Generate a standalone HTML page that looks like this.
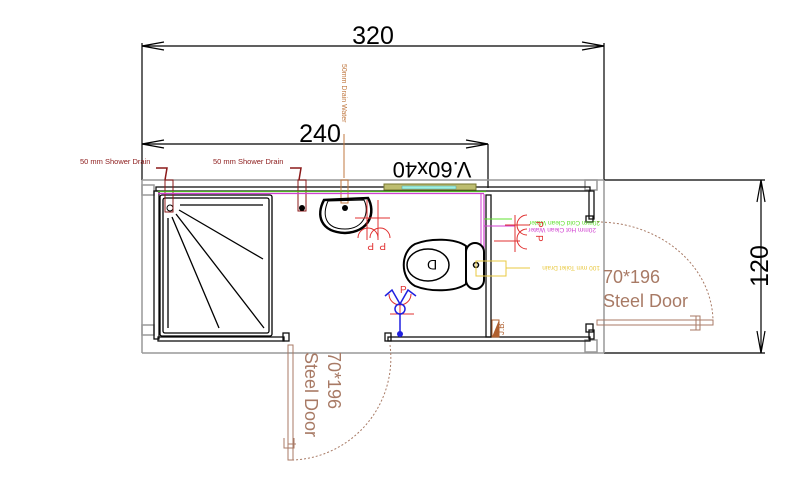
<!DOCTYPE html>
<html><head><meta charset="utf-8"><style>
html,body{margin:0;padding:0;background:#fff;}
svg{display:block;}
text{font-family:"Liberation Sans",sans-serif;}
</style></head><body>
<svg width="811" height="480" viewBox="0 0 811 480" xmlns="http://www.w3.org/2000/svg">
<rect width="811" height="480" fill="#fff"/>
<!-- 320 dim -->
<g stroke="#000" stroke-width="1.2" fill="none">
<line x1="142" y1="46" x2="604" y2="46"/>
<line x1="142" y1="43" x2="142" y2="180"/>
<line x1="604" y1="43" x2="604" y2="180"/>
<polyline points="164,42 142,46 164,50"/>
<polyline points="582,42 604,46 582,50"/>
<line x1="142" y1="144" x2="488" y2="144"/>
<line x1="488" y1="144" x2="488" y2="188"/>
<polyline points="164,140 142,144 164,148"/>
<polyline points="466,140 488,144 466,148"/>
<!-- 120 dim -->
<line x1="604" y1="180" x2="765" y2="180"/>
<line x1="604" y1="353" x2="765" y2="353"/>
<line x1="761" y1="180" x2="761" y2="353"/>
<polyline points="757,202 761,180 765,202"/>
<polyline points="757,331 761,353 765,331"/>
</g>
<text x="373" y="44" font-size="25" text-anchor="middle">320</text>
<text x="320" y="142" font-size="25" text-anchor="middle">240</text>
<text x="0" y="0" font-size="25" text-anchor="middle" transform="translate(768,266) rotate(-90)">120</text>
<text x="0" y="0" font-size="22" text-anchor="middle" transform="translate(432,162) rotate(180)">V.60x40</text>
<!-- outer gray frame -->
<g stroke="#999" stroke-width="1.5" fill="none">
<line x1="142" y1="180" x2="604" y2="180"/>
<line x1="142" y1="353" x2="604" y2="353"/>
<line x1="142" y1="180" x2="142" y2="353"/>
<line x1="604" y1="180" x2="604" y2="353"/>
<rect x="142" y="185" width="12" height="10"/>
<rect x="142" y="325" width="12" height="10"/>
<rect x="585" y="180" width="12" height="10"/>
<rect x="585" y="340" width="12" height="12"/>
</g>
<!-- walls -->
<g stroke="#111" stroke-width="1.3" fill="none">
<rect x="156" y="187" width="434" height="4"/>
<rect x="154" y="191" width="5" height="148"/>
<rect x="158" y="337" width="126" height="4"/>
<rect x="283" y="333" width="6" height="8"/>
<rect x="388" y="337" width="202" height="4"/>
<rect x="385" y="333" width="6" height="8"/>
<rect x="486" y="195" width="5" height="142"/>
<rect x="589" y="191" width="5" height="28"/>
<rect x="586" y="216" width="7" height="6"/>
<rect x="586" y="324" width="7" height="8"/>
<rect x="589" y="330" width="5" height="9"/>
</g>
<!-- shower -->
<g stroke="#000" stroke-width="1.3" fill="none">
<rect x="160" y="195" width="112" height="141" rx="2"/>
<rect x="163" y="198" width="106" height="135" rx="2"/>
<line x1="180" y1="205" x2="263" y2="205"/>
<line x1="179" y1="210" x2="263" y2="259"/>
<line x1="176" y1="214" x2="264" y2="328"/>
<line x1="172" y1="217" x2="219" y2="328"/>
<line x1="168" y1="218" x2="168" y2="328"/>
</g>
<circle cx="170" cy="208" r="3" fill="#fff" stroke="#000"/>
<rect x="165" y="180" width="8" height="32" fill="none" stroke="#8b1a1a"/>
<rect x="298" y="180" width="8" height="31" fill="none" stroke="#8b1a1a"/>
<circle cx="302" cy="208" r="3" fill="#000"/>
<path d="M156,168 h11 l-2,12" stroke="#8b1a1a" fill="none" stroke-width="1.5"/>
<path d="M290,168 h11 l-2,12" stroke="#8b1a1a" fill="none" stroke-width="1.5"/>
<text x="80" y="164" font-size="7.5" fill="#8b1a1a">50 mm Shower Drain</text>
<text x="213" y="164" font-size="7.5" fill="#8b1a1a">50 mm Shower Drain</text>
<!-- drain water label -->
<line x1="344" y1="134" x2="344" y2="178" stroke="#c07840" stroke-width="1"/>
<rect x="341" y="180" width="7" height="23" fill="none" stroke="#c07840"/>
<text x="0" y="0" font-size="7" fill="#c07840" transform="translate(342,64) rotate(90)">50mm Drain Water</text>
<!-- pipes -->
<line x1="158" y1="191.5" x2="486" y2="191.5" stroke="#4caf20" stroke-width="1.2"/>
<line x1="158" y1="193.5" x2="484" y2="193.5" stroke="#d040d0" stroke-width="1.2"/>
<line x1="484" y1="194" x2="484" y2="271" stroke="#d040d0" stroke-width="1.2"/>
<line x1="481" y1="194" x2="481" y2="271" stroke="#d040d0" stroke-width="1"/>
<line x1="484" y1="219" x2="512" y2="219" stroke="#60e030" stroke-width="1"/>
<text x="0" y="0" font-size="6.5" fill="#60e030" transform="translate(600,221) rotate(180)">20mm Cold Clean Water</text>
<line x1="484" y1="226" x2="515" y2="226" stroke="#d040d0" stroke-width="1"/>
<text x="0" y="0" font-size="6.5" fill="#d040d0" transform="translate(596,228) rotate(180)">20mm Hot Clean Water</text>
<!-- wall-hung bar -->
<rect x="384" y="184" width="92" height="6" fill="#bdbd70" stroke="#777730"/>
<rect x="402" y="186" width="54" height="3" fill="#a0f0e0" stroke="#50a0a0" stroke-width="0.5"/>
<!-- sink -->
<path d="M324,200 C316,215 320,232 345,233 C370,232 376,212 368,198 Z" fill="none" stroke="#000" stroke-width="2.5"/>
<path d="M328,201 C322,215 325,229 345,229 C364,229 370,212 364,200 Z" fill="none" stroke="#000" stroke-width="1"/>
<circle cx="345" cy="208" r="3" fill="#000"/>
<g stroke="#e03030" fill="none" stroke-width="1">
<line x1="355" y1="218" x2="390" y2="218"/>
<line x1="367" y1="200" x2="367" y2="240"/>
<line x1="378" y1="200" x2="378" y2="240"/>
<path d="M358,238 a10,10 0 0 1 20,0"/>
<path d="M370,238 a10,10 0 0 1 20,0"/>
<line x1="505" y1="225" x2="530" y2="225"/>
<line x1="515" y1="215" x2="515" y2="252"/>
<line x1="494" y1="241" x2="520" y2="241"/>
<path d="M527,215 a10,10 0 0 0 0,20"/>
<path d="M527,229 a10,10 0 0 0 0,20"/>
<line x1="400" y1="303" x2="400" y2="333"/>
<line x1="390" y1="314" x2="414" y2="314"/>
<path d="M389,294 a11,11 0 0 0 22,0"/>
</g>
<text x="0" y="0" font-size="10" fill="#e03030" transform="translate(374,243) rotate(180)">P</text>
<text x="0" y="0" font-size="10" fill="#e03030" transform="translate(386,243) rotate(180)">P</text>
<text x="0" y="0" font-size="10" fill="#e03030" transform="translate(536,221) rotate(90)">P</text>
<text x="0" y="0" font-size="10" fill="#e03030" transform="translate(536,235) rotate(90)">P</text>
<text x="400" y="293" font-size="10" fill="#e03030">P</text>
<!-- blue -->
<g stroke="#2020e0" fill="none" stroke-width="1.5">
<polyline points="385,296 392,290 400,304 408,290 416,296"/>
<circle cx="400" cy="309" r="5"/>
<line x1="400" y1="314" x2="400" y2="333"/>
</g>
<circle cx="400" cy="334" r="3" fill="#2020e0"/>
<!-- toilet -->
<path d="M466,246 C455,238 430,238 415,244 C400,252 400,278 415,286 C430,292 455,292 466,284 Z" fill="none" stroke="#000" stroke-width="2"/>
<ellipse cx="428" cy="265" rx="21" ry="16" fill="none" stroke="#000" stroke-width="1.5"/>
<text x="0" y="0" font-size="14" text-anchor="middle" transform="translate(432,260) rotate(180)">D</text>
<rect x="466" y="243" width="18" height="46" rx="9" fill="#fff" stroke="#000" stroke-width="2"/>
<circle cx="476" cy="265" r="2.5" fill="none" stroke="#000" stroke-width="1.5"/>
<rect x="476" y="261" width="30" height="15" fill="none" stroke="#e8c840"/>
<line x1="506" y1="268" x2="530" y2="268" stroke="#e8c840"/>
<text x="0" y="0" font-size="6.5" fill="#e8c840" transform="translate(600,266) rotate(180)">100 mm Toilet Drain</text>
<!-- JB -->
<polygon points="492,320 499,320 499,337 492,337" fill="none" stroke="#b06030"/>
<polygon points="492,337 499,320 499,337" fill="#b06030"/>
<text x="0" y="0" font-size="8" fill="#b06030" transform="translate(504,335) rotate(-90)">J.B.</text>
<!-- doors -->
<rect x="288" y="345" width="5" height="115" fill="none" stroke="#a87a65"/>
<path d="M284,438 v10 h10 v-10 M288,444 h8" fill="none" stroke="#a87a65"/>
<path d="M390,345 A102,102 0 0 1 293,460" fill="none" stroke="#a87a65" stroke-dasharray="2,2"/>
<rect x="597" y="320" width="116" height="5" fill="none" stroke="#a87a65"/>
<path d="M690,316 h10 v14 h-10 M696,316 v14" fill="none" stroke="#a87a65"/>
<path d="M597,222 A116,100 0 0 1 713,322" fill="none" stroke="#a87a65" stroke-dasharray="2,2"/>
<text x="603" y="283" font-size="18" fill="#a87a65">70*196</text>
<text x="603" y="307" font-size="18" fill="#a87a65">Steel Door</text>
<text x="0" y="0" font-size="18" fill="#a87a65" transform="translate(328,352) rotate(90)">70*196</text>
<text x="0" y="0" font-size="18" fill="#a87a65" transform="translate(305,352) rotate(90)">Steel Door</text>
</svg>
</body></html>
